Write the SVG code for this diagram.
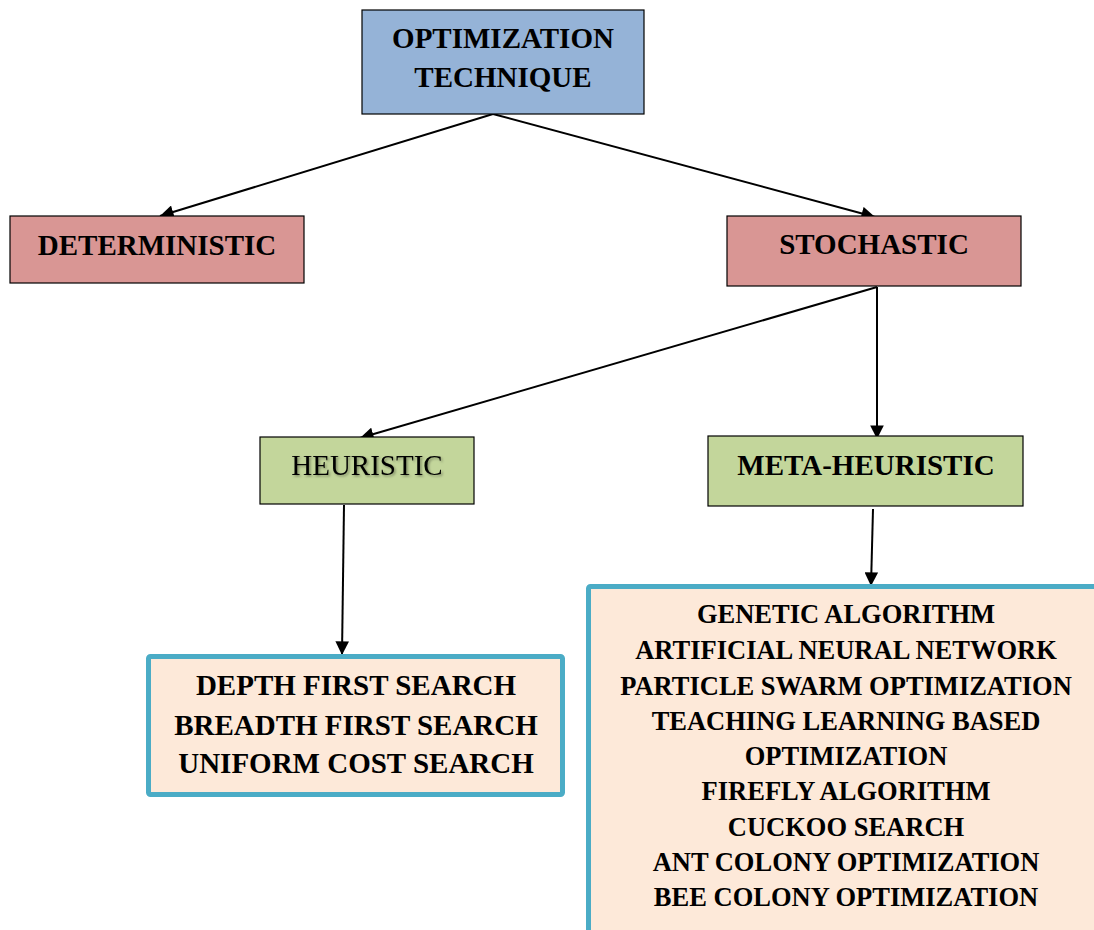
<svg xmlns="http://www.w3.org/2000/svg" width="1094" height="930" viewBox="0 0 1094 930">
  <defs>
    <marker id="arrow" viewBox="0 0 10 10" refX="10" refY="5" markerWidth="7" markerHeight="6.8" markerUnits="strokeWidth" orient="auto">
      <path d="M0,0 L10,5 L0,10 Z" fill="#000"/>
    </marker>
    <filter id="shadow" x="-10%" y="-30%" width="120%" height="160%">
      <feDropShadow dx="1.5" dy="1.5" stdDeviation="1" flood-color="#000" flood-opacity="0.35"/>
    </filter>
    <style>
      .box { stroke: #000; stroke-width: 1.2; }
      .blue { fill: #95B3D7; }
      .red { fill: #D99694; }
      .green { fill: #C3D69B; }
      .list { fill: #FDE9D9; stroke: #4BACC6; stroke-width: 5; }
      .t { font-family: "Liberation Serif", "Times New Roman", serif; font-weight: bold; font-size: 29px; fill: #000; text-anchor: middle; }
      .reg { font-weight: normal; }
      .small { font-size: 26.5px; }
      .edge { stroke: #000; stroke-width: 2; fill: none; marker-end: url(#arrow); }
    </style>
  </defs>

  <rect width="1094" height="930" fill="#fff"/>

  <g id="connectors">
    <line class="edge" x1="493" y1="114" x2="160" y2="216"/>
    <line class="edge" x1="493" y1="114" x2="875" y2="217"/>
    <line class="edge" x1="877" y1="287" x2="360" y2="438"/>
    <line class="edge" x1="877" y1="287" x2="877" y2="439"/>
    <line class="edge" x1="344" y1="505" x2="342" y2="655"/>
    <line class="edge" x1="873" y1="509" x2="871" y2="586"/>
  </g>

  <g id="optimization-technique">
    <rect class="box blue" x="362" y="10" width="282" height="104"/>
    <text class="t" x="503" y="48">OPTIMIZATION</text>
    <text class="t" x="503" y="87">TECHNIQUE</text>
  </g>

  <g id="deterministic">
    <rect class="box red" x="10" y="216" width="294" height="67"/>
    <text class="t" x="157" y="255">DETERMINISTIC</text>
  </g>

  <g id="stochastic">
    <rect class="box red" x="727" y="216" width="294" height="70"/>
    <text class="t" x="874" y="254">STOCHASTIC</text>
  </g>

  <g id="heuristic">
    <rect class="box green" x="260" y="437" width="214" height="67"/>
    <text class="t reg" x="367" y="475" filter="url(#shadow)">HEURISTIC</text>
  </g>

  <g id="meta-heuristic">
    <rect class="box green" x="708" y="436" width="315" height="70"/>
    <text class="t" x="866" y="475">META-HEURISTIC</text>
  </g>

  <g id="search-methods">
    <rect class="list" x="148.5" y="656.5" width="414" height="138" rx="2"/>
    <text class="t" x="356" y="695">DEPTH FIRST SEARCH</text>
    <text class="t" x="356" y="735">BREADTH FIRST SEARCH</text>
    <text class="t" x="356" y="773">UNIFORM COST SEARCH</text>
  </g>

  <g id="metaheuristic-methods">
    <rect class="list" x="588.5" y="586.5" width="520" height="360" rx="2"/>
    <text class="t small" x="846" y="623">GENETIC ALGORITHM</text>
    <text class="t small" x="846" y="659">ARTIFICIAL NEURAL NETWORK</text>
    <text class="t small" x="846" y="695">PARTICLE SWARM OPTIMIZATION</text>
    <text class="t small" x="846" y="730">TEACHING LEARNING BASED</text>
    <text class="t small" x="846" y="765">OPTIMIZATION</text>
    <text class="t small" x="846" y="800">FIREFLY ALGORITHM</text>
    <text class="t small" x="846" y="836">CUCKOO SEARCH</text>
    <text class="t small" x="846" y="871">ANT COLONY OPTIMIZATION</text>
    <text class="t small" x="846" y="906">BEE COLONY OPTIMIZATION</text>
  </g>
</svg>
